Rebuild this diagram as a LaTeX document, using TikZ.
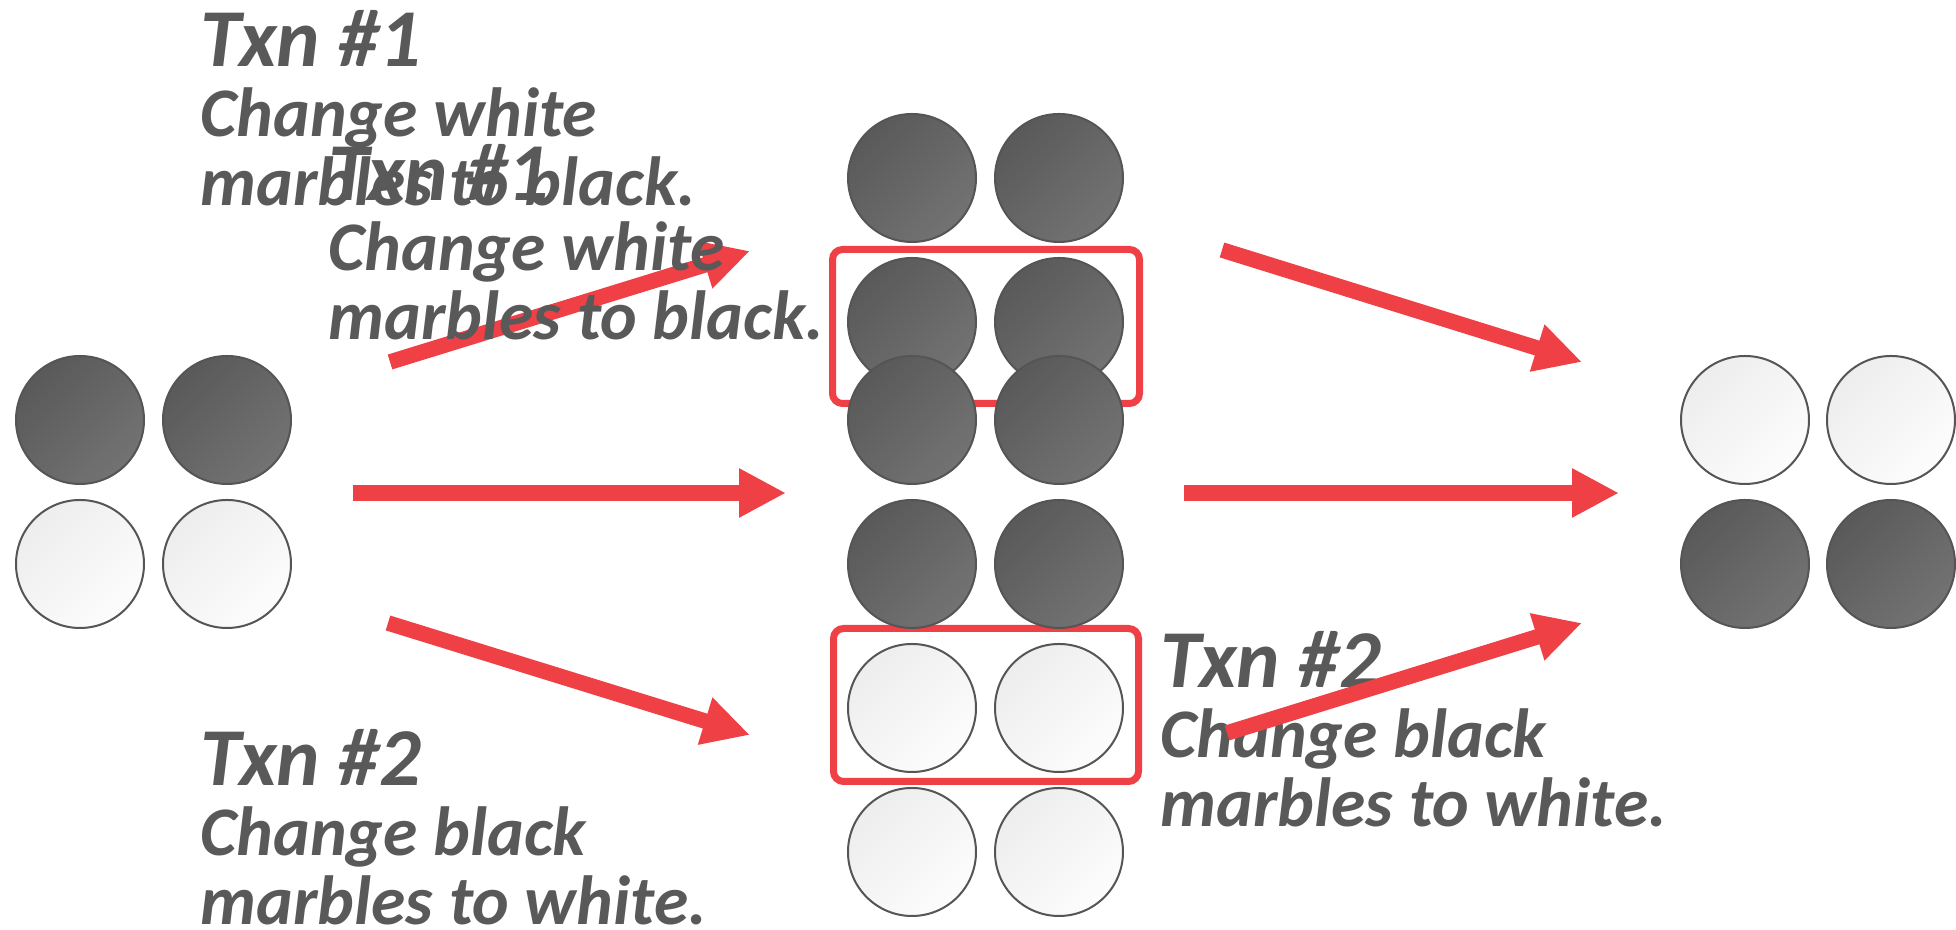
\documentclass[tikz,border=0pt]{standalone}
\usepackage{fontspec}
\setmainfont{Carlito}
\usetikzlibrary{arrows.meta}
\definecolor{txnred}{RGB}{239,64,69}
\definecolor{txtgray}{RGB}{89,89,89}
\definecolor{rimgray}{RGB}{85,85,85}
\newcommand{\bodyfont}{\fontsize{19.8pt}{19.9pt}\selectfont\bfseries\itshape}
\newcommand{\txnfont}{\fontsize{23.4pt}{19.9pt}\selectfont}

\begin{document}
\begin{tikzpicture}[
		darkmarble/.style={circle, minimum size=12.8mm, inner sep=0, draw=rimgray, line width=0.2mm, top color=black!65, bottom color=black!55, shading angle=45},
		whitemarble/.style={circle, minimum size=12.8mm, inner sep=0, draw=rimgray, line width=0.2mm, top color=black!7, bottom color=black!1, shading angle=45},
		txnbox/.style={draw=txnred, line width=0.7mm, rounded corners=1mm},
		redarrow/.style={txnred, line width=1.55mm, -{Triangle[length=4.7mm,width=4.6mm]}},
		txt/.style={anchor=base west, inner sep=0, align=left, text=txtgray, font=\bodyfont}
	]
	\useasboundingbox (0,0) rectangle (19.56,9.30);
	% start state
	\node[darkmarble] (s1) at (0.80,5.10) {};
	\node[darkmarble] (s2) at (2.27,5.10) {};
	\node[whitemarble] (s3) at (0.80,3.66) {};
	\node[whitemarble] (s4) at (2.27,3.66) {};
	% middle column, the two changed pairs boxed
	\draw[txnbox] (8.325,5.265) rectangle (11.395,6.805);
	\draw[txnbox] (8.335,1.485) rectangle (11.385,3.015);
	\foreach[count=\i] \y/\s in {7.52/darkmarble, 6.08/darkmarble, 5.10/darkmarble, 3.66/darkmarble, 2.22/whitemarble, 0.78/whitemarble}{
		\node[\s] (m\i a) at (9.12,\y) {};
		\node[\s] (m\i b) at (10.59,\y) {};
	}
	% end state
	\node[whitemarble] (e1) at (17.45,5.10) {};
	\node[whitemarble] (e2) at (18.91,5.10) {};
	\node[darkmarble] (e3) at (17.45,3.66) {};
	\node[darkmarble] (e4) at (18.91,3.66) {};
	% second txn label, under its arrow
	\node[txt] (txn2r) at (11.60,1.03) {{\txnfont Txn \#2}\\Change black\\marbles to white.};
	% arrows
	\coordinate (ul0) at (3.90,5.68); \coordinate (ul1) at (7.50,6.79);
	\coordinate (ml0) at (3.53,4.37); \coordinate (ml1) at (7.86,4.37);
	\coordinate (ll0) at (3.88,3.07); \coordinate (ll1) at (7.50,1.95);
	\coordinate (ur0) at (12.22,6.80); \coordinate (ur1) at (15.82,5.68);
	\coordinate (mr0) at (11.84,4.37); \coordinate (mr1) at (16.19,4.37);
	\coordinate (lr0) at (12.27,1.97); \coordinate (lr1) at (15.82,3.07);
	\draw[redarrow] (ul0) -- (ul1);
	\draw[redarrow] (ml0) -- (ml1);
	\draw[redarrow] (ll0) -- (ll1);
	\draw[redarrow] (ur0) -- (ur1);
	\draw[redarrow] (mr0) -- (mr1);
	\draw[redarrow] (lr0) -- (lr1);
	% txn labels
	\node[txt] (txn1) at (2.00,7.24) {{\txnfont Txn \#1}\\Change white\\marbles to black.};
	\node[txt] (txn1b) at (3.28,5.90) {{\txnfont Txn \#1}\\Change white\\marbles to black.};
	\node[txt] (txn2) at (2.00,0.05) {{\txnfont Txn \#2}\\Change black\\marbles to white.};
\end{tikzpicture}
\end{document}
